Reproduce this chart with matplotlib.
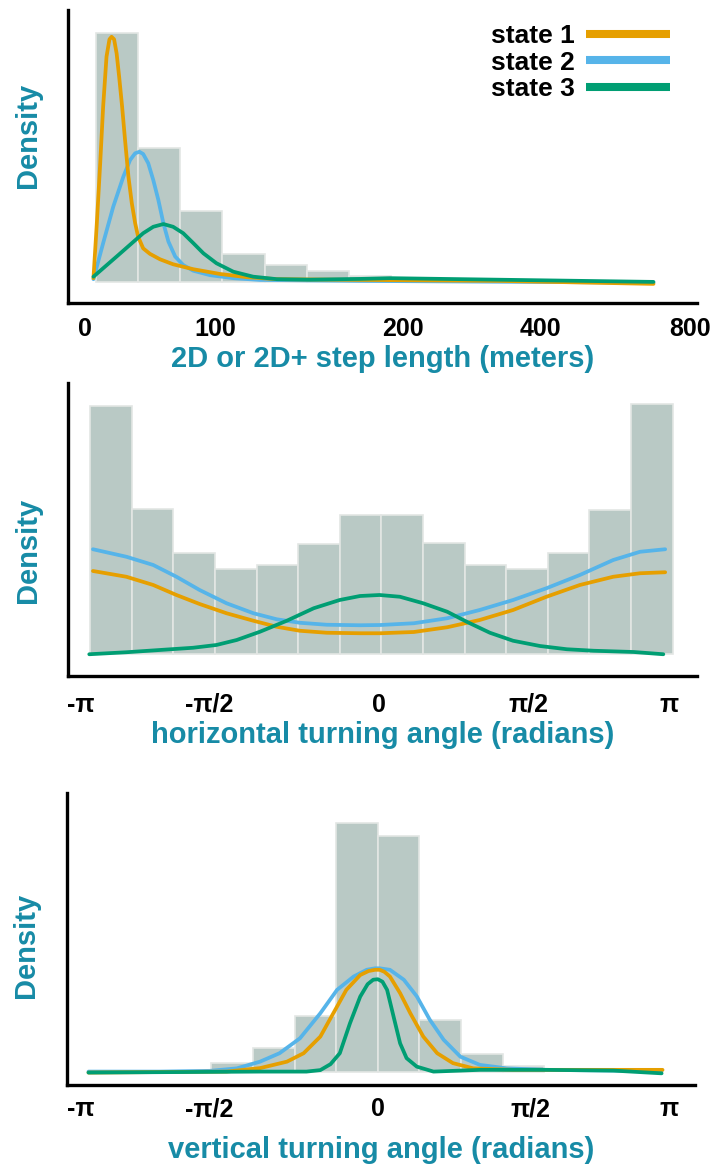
import numpy as np
import matplotlib
matplotlib.use("Agg")
import matplotlib.pyplot as plt
from matplotlib.lines import Line2D

plt.rcParams["font.family"] = ["Liberation Sans", "DejaVu Sans"]
plt.rcParams["font.weight"] = "bold"

# Colores
C_STATE1 = "#E69F00"
C_STATE2 = "#56B4E9"
C_STATE3 = "#009E73"
C_BAR = "#B9C9C5"
C_BAR_EDGE = "#E3E6E4"
C_LABEL = "#178BA6"

STATE_NAMES = ["state 1", "state 2", "state 3"]

# ==============================
# Panel 1: step length (x en unidades de bin)
# ==============================
step_heights = [1.0, 0.537, 0.286, 0.110, 0.067, 0.044, 0.021]
step_tick_pos = [-0.26, 2.82, 7.29, 10.54, 14.10]
step_tick_labels = ["0", "100", "200", "400", "800"]

step_s1_x = [-0.06, 0.02, 0.10, 0.17, 0.25, 0.32, 0.37, 0.43, 0.49, 0.55, 0.62, 0.69, 0.77,
             0.85, 0.93, 1.00, 1.12, 1.28, 1.52, 1.83, 2.31, 2.94, 3.58, 4.29, 6.27, 9.59, 13.23]
step_s1_y = [0.014, 0.235, 0.477, 0.705, 0.906, 0.976, 0.986, 0.976, 0.919, 0.825, 0.705, 0.570, 0.423,
             0.316, 0.235, 0.181, 0.134, 0.112, 0.090, 0.070, 0.050, 0.031, 0.018, 0.010, 0.007, 0.003, -0.009]
step_s2_x = [-0.06, 0.17, 0.41, 0.65, 0.81, 0.93, 1.03, 1.12, 1.24, 1.36, 1.48, 1.60, 1.72, 1.88,
             2.07, 2.31, 2.71, 3.26, 3.89, 6.27, 13.23]
step_s2_y = [0.010, 0.155, 0.302, 0.423, 0.490, 0.517, 0.523, 0.514, 0.477, 0.409, 0.329, 0.235, 0.161, 0.101,
             0.067, 0.044, 0.026, 0.014, 0.007, 0.003, -0.004]
step_s3_x = [-0.06, 0.53, 1.12, 1.36, 1.60, 1.83, 2.07, 2.31, 2.55, 2.86, 3.26, 3.73, 4.29, 5.08,
             6.27, 6.98, 13.23]
step_s3_y = [0.020, 0.107, 0.195, 0.221, 0.232, 0.221, 0.195, 0.155, 0.114, 0.074, 0.040, 0.020, 0.010, 0.008,
             0.011, 0.014, -0.001]

# ==============================
# Panel 2: horizontal turning angle
# ==============================
hor_heights = [0.992, 0.579, 0.403, 0.340, 0.356, 0.440, 0.555, 0.555, 0.443, 0.356, 0.340, 0.405, 0.576, 1.0]
hor_tick_pos = [-3.24, -1.86, -0.03, 1.59, 3.10]

hor_x = [-3.11, -2.75, -2.46, -2.21, -1.96, -1.67, -1.38, -1.13, -0.88, -0.59, -0.23, -0.01, 0.35, 0.71,
         1.06, 1.42, 1.78, 2.14, 2.50, 2.79, 3.06]
hor_s1_y = [0.332, 0.309, 0.276, 0.236, 0.200, 0.163, 0.133, 0.109, 0.093, 0.085, 0.083, 0.083, 0.088, 0.107,
            0.136, 0.176, 0.229, 0.276, 0.309, 0.323, 0.327]
hor_s2_y = [0.419, 0.389, 0.356, 0.309, 0.256, 0.203, 0.163, 0.139, 0.125, 0.117, 0.115, 0.116, 0.123, 0.143,
            0.176, 0.216, 0.263, 0.316, 0.376, 0.409, 0.419]
hor_s3_x = [-3.15, -2.75, -2.39, -2.03, -1.78, -1.56, -1.31, -1.02, -0.73, -0.45, -0.23, -0.02, 0.20, 0.45,
            0.71, 0.92, 1.17, 1.42, 1.71, 2.00, 2.29, 2.72, 3.04]
hor_s3_y = [-0.001, 0.007, 0.016, 0.025, 0.036, 0.056, 0.089, 0.133, 0.183, 0.216, 0.232, 0.236, 0.229, 0.203,
            0.169, 0.129, 0.085, 0.053, 0.032, 0.019, 0.013, 0.008, -0.001]

# ==============================
# Panel 3: vertical turning angle
# ==============================
ver_heights = [0, 0, 0, 0.036, 0.097, 0.224, 1.0, 0.949, 0.208, 0.070, 0.023, 0, 0, 0]
ver_tick_pos = [-3.20, -1.82, 0.0, 1.65, 3.14]

ver_s1_x = [-3.12, -1.63, -1.27, -0.98, -0.80, -0.62, -0.48, -0.34, -0.19, -0.10, -0.03, 0.02, 0.07, 0.13,
            0.24, 0.35, 0.49, 0.64, 0.81, 1.03, 1.46, 3.07]
ver_s1_y = [-0.004, 0.0, 0.014, 0.040, 0.074, 0.141, 0.235, 0.329, 0.389, 0.405, 0.410, 0.410, 0.402, 0.383,
            0.316, 0.235, 0.141, 0.074, 0.034, 0.013, 0.007, 0.007]
ver_s2_x = [-3.12, -2.35, -1.81, -1.52, -1.27, -1.06, -0.84, -0.62, -0.44, -0.26, -0.12, -0.03, 0.02, 0.13,
            0.28, 0.42, 0.56, 0.71, 0.89, 1.10, 1.39, 1.82, 2.54, 3.06]
ver_s2_y = [0.0, 0.0, 0.003, 0.013, 0.040, 0.074, 0.134, 0.235, 0.329, 0.383, 0.410, 0.416, 0.416, 0.410,
            0.370, 0.303, 0.209, 0.128, 0.060, 0.027, 0.013, 0.007, 0.004, 0.003]
ver_s3_x = [-3.12, -1.27, -0.77, -0.62, -0.51, -0.41, -0.30, -0.19, -0.11, -0.05, 0.0, 0.05, 0.10, 0.17,
            0.24, 0.31, 0.42, 0.60, 1.10, 1.82, 2.54, 3.06]
ver_s3_y = [-0.004, 0.0, 0.0, 0.006, 0.030, 0.074, 0.195, 0.302, 0.352, 0.370, 0.372, 0.362, 0.329, 0.221,
            0.114, 0.054, 0.020, 0.0, 0.007, 0.007, 0.004, -0.007]

angle_tick_labels = ["-π", "-π/2", "0", "π/2", "π"]

# ==============================
# Figura
# ==============================
W, H = 713, 1169
fig = plt.figure(figsize=(W / 100, H / 100), dpi=100)


def add_panel(left, top, right, bottom):
    return fig.add_axes([left / W, 1 - bottom / H, (right - left) / W, (bottom - top) / H])


def style_axes(ax, ticks, labels, xlabel, xlabel_y, ylabel_y, pad):
    for side in ["top", "right"]:
        ax.spines[side].set_visible(False)
    for side in ["left", "bottom"]:
        ax.spines[side].set_linewidth(2.4)
        ax.spines[side].set_color("black")
    ax.set_yticks([])
    ax.set_xticks(ticks, labels)
    ax.tick_params(axis="x", length=0, pad=pad, labelsize=18)
    for t in ax.get_xticklabels():
        t.set_fontweight("bold")
    ax.set_xlabel(xlabel, fontsize=21, fontweight="bold", color=C_LABEL, va="center")
    ax.xaxis.set_label_coords(0.5, xlabel_y)
    ax.set_ylabel("Density", fontsize=21, fontweight="bold", color=C_LABEL, va="center")
    ax.yaxis.set_label_coords(-0.064, ylabel_y)
    ax.patch.set_alpha(0)


def draw_curves(ax, curves):
    # orden: azul debajo, naranja, verde encima
    for (x, y, color, z) in curves:
        ax.plot(x, y, color=color, lw=2.7, solid_capstyle="round", solid_joinstyle="round", zorder=z)


# Panel 1
ax1 = add_panel(68, 10, 697, 303)
ax1.bar(np.arange(len(step_heights)), step_heights, width=1.0, align="edge",
        color=C_BAR, edgecolor=C_BAR_EDGE, linewidth=1.2, zorder=1)
draw_curves(ax1, [(step_s2_x, step_s2_y, C_STATE2, 3),
                  (step_s1_x, step_s1_y, C_STATE1, 4),
                  (step_s3_x, step_s3_y, C_STATE3, 5)])
ax1.set_xlim(-0.664, 14.263)
ax1.set_ylim(-0.086, 1.094)
style_axes(ax1, step_tick_pos, step_tick_labels, "2D or 2D+ step length (meters)",
           (303 - 359) / 293, (303 - 135) / 293, 10)

handles = [Line2D([], [], color=c, lw=5.8, solid_capstyle="butt")
           for c in [C_STATE1, C_STATE2, C_STATE3]]
ax1.legend(handles, STATE_NAMES, loc="upper right", bbox_to_anchor=(670 / W, 1 - 24 / H),
           bbox_transform=fig.transFigure, frameon=False, markerfirst=False,
           handlelength=3.2, handletextpad=0.4, labelspacing=0.1, borderpad=0, borderaxespad=0,
           prop={"size": 19, "weight": "bold"})

# Panel 2
bin_edges = np.linspace(-np.pi, np.pi, 15)
bin_w = bin_edges[1] - bin_edges[0]

ax2 = add_panel(68.3, 383, 696.7, 676)
ax2.bar(bin_edges[:-1], hor_heights, width=bin_w, align="edge",
        color=C_BAR, edgecolor=C_BAR_EDGE, linewidth=1.2, zorder=1)
draw_curves(ax2, [(hor_x, hor_s2_y, C_STATE2, 3),
                  (hor_x, hor_s1_y, C_STATE1, 4),
                  (hor_s3_x, hor_s3_y, C_STATE3, 5)])
ax2.set_xlim(-3.376, 3.400)
ax2.set_ylim(-0.088, 1.084)
style_axes(ax2, hor_tick_pos, angle_tick_labels, "horizontal turning angle (radians)",
           (676 - 735) / 293, (676 - 550) / 293, 12)

# Panel 3
ax3 = add_panel(66.7, 793, 695, 1085)
mask = np.array(ver_heights) > 0
ax3.bar(bin_edges[:-1][mask], np.array(ver_heights)[mask], width=bin_w, align="edge",
        color=C_BAR, edgecolor=C_BAR_EDGE, linewidth=1.2, zorder=1)
draw_curves(ax3, [(ver_s2_x, ver_s2_y, C_STATE2, 3),
                  (ver_s1_x, ver_s1_y, C_STATE1, 4),
                  (ver_s3_x, ver_s3_y, C_STATE3, 5)])
ax3.set_xlim(-3.355, 3.420)
ax3.set_ylim(-0.054, 1.122)
style_axes(ax3, ver_tick_pos, angle_tick_labels, "vertical turning angle (radians)",
           (1085 - 1150) / 292, (1085 - 945) / 292, 9)

fig.savefig("out.png", dpi=100)
